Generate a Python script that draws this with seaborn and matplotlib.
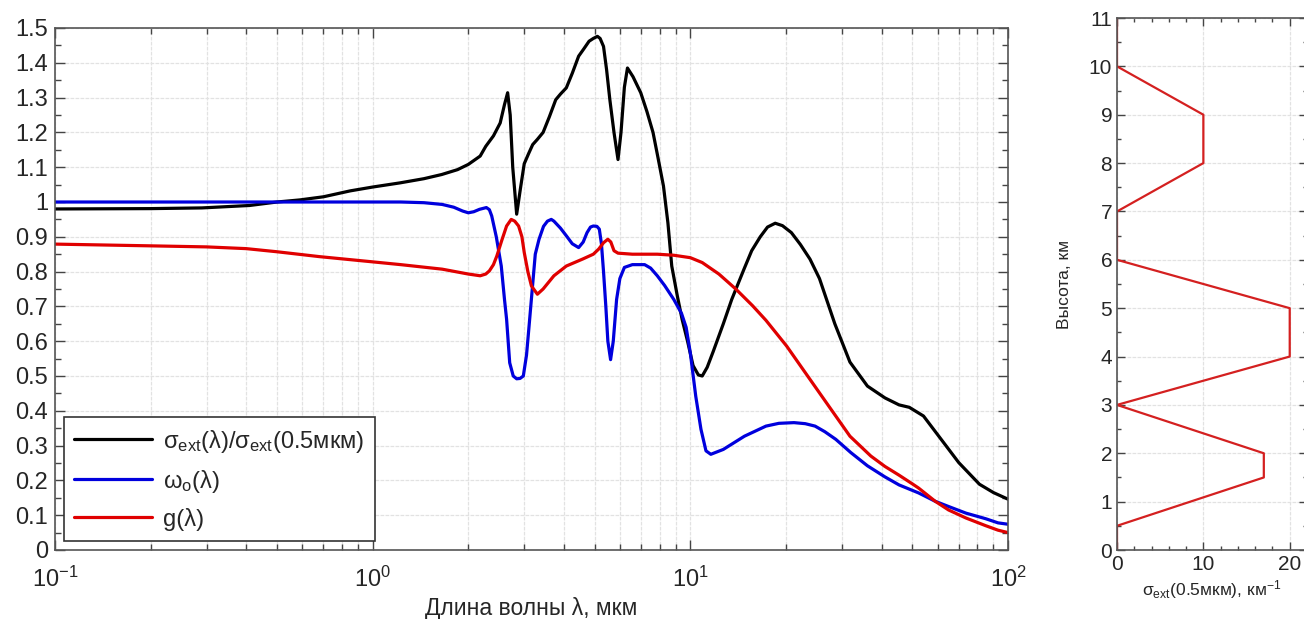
import numpy as np
import pandas as pd
import matplotlib
matplotlib.use("Agg")
import matplotlib.pyplot as plt
from matplotlib.ticker import MultipleLocator, LogLocator, NullFormatter
import seaborn as sns

# ---------------- data ----------------
lam_ext = [0.1, 0.2, 0.29, 0.41, 0.5, 0.59, 0.7, 0.85, 1.0, 1.22, 1.45, 1.65, 1.85, 2.0,
           2.18, 2.27, 2.4, 2.52, 2.6, 2.66, 2.71, 2.76, 2.84, 2.92, 3.0, 3.1, 3.19, 3.3,
           3.44, 3.6, 3.77, 3.9, 4.07, 4.25, 4.45, 4.62, 4.8, 4.95, 5.1, 5.2, 5.33, 5.45,
           5.58, 5.75, 5.92, 6.05, 6.2, 6.34, 6.6, 6.98, 7.3, 7.63, 7.9, 8.23, 8.5, 8.74,
           9.1, 9.42, 9.8, 10.2, 10.6, 10.9, 11.3, 11.8, 12.7, 13.5, 14.8, 15.6, 16.6,
           17.5, 18.5, 19.5, 20.8, 22.2, 23.8, 25.5, 28.5, 31.8, 36.1, 41.0, 45.4, 48.9,
           54.2, 61.6, 70.0, 81.3, 90.0, 100.0]
sigma_ratio = [0.98, 0.981, 0.983, 0.99, 1.0, 1.006, 1.015, 1.032, 1.043, 1.055, 1.067,
               1.079, 1.093, 1.108, 1.132, 1.16, 1.19, 1.227, 1.28, 1.314, 1.25, 1.1,
               0.965, 1.04, 1.11, 1.14, 1.165, 1.18, 1.2, 1.245, 1.294, 1.31, 1.328, 1.37,
               1.419, 1.44, 1.462, 1.47, 1.476, 1.47, 1.447, 1.38, 1.294, 1.2, 1.122, 1.2,
               1.33, 1.385, 1.36, 1.314, 1.26, 1.2, 1.13, 1.046, 0.94, 0.816, 0.73, 0.663,
               0.6, 0.53, 0.503, 0.5, 0.525, 0.57, 0.65, 0.72, 0.81, 0.86, 0.9, 0.928,
               0.939, 0.932, 0.912, 0.878, 0.836, 0.78, 0.65, 0.54, 0.471, 0.437, 0.417,
               0.41, 0.385, 0.318, 0.251, 0.189, 0.165, 0.146]

lam_omega = [0.1, 1.0, 1.226, 1.45, 1.655, 1.8, 1.92, 2.0, 2.08, 2.17, 2.28, 2.33, 2.37,
             2.45, 2.54, 2.6, 2.64, 2.7, 2.77, 2.84, 2.91, 2.98, 3.05, 3.1, 3.18, 3.25,
             3.34, 3.45, 3.55, 3.65, 3.72, 3.9, 4.07, 4.25, 4.45, 4.6, 4.73, 4.85, 4.95,
             5.08, 5.17, 5.25, 5.33, 5.42, 5.5, 5.61, 5.72, 5.86, 6.0, 6.2, 6.57, 7.18,
             7.5, 7.87, 8.3, 8.87, 9.38, 9.7, 10.0, 10.4, 10.8, 11.2, 11.6, 12.7, 14.8,
             17.3, 19.0, 21.2, 23.0, 24.7, 26.5, 28.7, 32.0, 36.1, 41.0, 45.4, 52.3, 59.0,
             65.0, 73.7, 85.0, 93.0, 100.0]
omega0 = [1.0, 1.0, 1.0, 0.998, 0.993, 0.985, 0.974, 0.969, 0.972, 0.979, 0.984, 0.978,
          0.96, 0.9, 0.816, 0.72, 0.663, 0.538, 0.5, 0.492, 0.493, 0.5, 0.56, 0.633, 0.75,
          0.85, 0.893, 0.93, 0.945, 0.95, 0.945, 0.925, 0.903, 0.88, 0.869, 0.885, 0.912,
          0.928, 0.931, 0.93, 0.922, 0.88, 0.8, 0.7, 0.6, 0.547, 0.6, 0.72, 0.78, 0.812,
          0.82, 0.82, 0.81, 0.788, 0.76, 0.72, 0.68, 0.64, 0.566, 0.442, 0.347, 0.285,
          0.275, 0.289, 0.327, 0.356, 0.364, 0.366, 0.363, 0.356, 0.34, 0.318, 0.28,
          0.242, 0.21, 0.187, 0.164, 0.14, 0.125, 0.106, 0.09, 0.078, 0.074]

lam_g = [0.1, 0.2, 0.3, 0.4, 0.5, 0.68, 1.0, 1.226, 1.655, 2.0, 2.18, 2.27, 2.33, 2.4,
         2.46, 2.55, 2.64, 2.73, 2.8, 2.88, 2.95, 3.0, 3.08, 3.16, 3.3, 3.44, 3.72, 4.07,
         4.58, 4.95, 5.15, 5.33, 5.5, 5.62, 5.75, 5.92, 6.57, 7.87, 8.87, 10.0, 10.9,
         12.3, 13.9, 15.7, 17.3, 20.1, 23.4, 27.3, 31.8, 37.0, 41.0, 45.4, 50.0, 52.3,
         59.0, 65.0, 73.7, 85.0, 93.0, 100.0]
g_asym = [0.879, 0.874, 0.871, 0.866, 0.857, 0.843, 0.828, 0.82, 0.807, 0.793, 0.788,
          0.793, 0.802, 0.82, 0.845, 0.89, 0.931, 0.95, 0.945, 0.931, 0.9, 0.855, 0.8,
          0.759, 0.735, 0.75, 0.788, 0.816, 0.836, 0.85, 0.865, 0.883, 0.893, 0.885, 0.86,
          0.853, 0.85, 0.85, 0.847, 0.84, 0.826, 0.793, 0.75, 0.702, 0.66, 0.586, 0.5,
          0.413, 0.327, 0.27, 0.24, 0.215, 0.19, 0.178, 0.14, 0.115, 0.092, 0.07, 0.057,
          0.05]

# vertical extinction profile
prof_sigma = [0, 0, 17, 17, 0, 20, 20, 0, 0, 10, 10, 0, 0]
prof_height = [0, 0.5, 1.5, 2, 3, 4, 5, 6, 7, 8, 9, 10, 11]

labels = [r'$\sigma_{ext}$(λ)/$\sigma_{ext}$(0.5мкм)', r'$\omega_{o}$(λ)', 'g(λ)']
colors = ['#000000', '#0000dd', '#e00000']

# ---------------- style ----------------
sns.set_style("ticks")
plt.rcParams['font.family'] = ['Liberation Sans', 'DejaVu Sans']
plt.rcParams['mathtext.default'] = 'regular'
plt.rcParams['xtick.direction'] = 'in'
plt.rcParams['ytick.direction'] = 'in'

W, H = 1304, 619
fig = plt.figure(figsize=(W / 100, H / 100), dpi=100)

def px_axes(l, r, t, b):
    return [l / W, (H - b) / H, (r - l) / W, (b - t) / H]

ax = fig.add_axes(px_axes(55, 1008, 28, 550))
ax2 = fig.add_axes(px_axes(1117, 1307, 18, 550))

grid_kw = dict(color='#e2e2e2', linewidth=0.9, linestyle=(0, (3, 1)))

# ---------------- left panel ----------------
series = [(lam_ext, sigma_ratio), (lam_omega, omega0), (lam_g, g_asym)]
for (xs, ys), lab, c in zip(series, labels, colors):
    df = pd.DataFrame({'x': xs, 'y': ys})
    sns.lineplot(data=df, x='x', y='y', ax=ax, color=c, linewidth=2.3, label=lab,
                 sort=False, estimator=None)

ax.set_xscale('log')
ax.set_xlim(0.1, 100)
ax.set_ylim(0, 1.5)
yt = np.round(np.arange(0, 1.51, 0.1), 2)
ax.set_yticks(yt)
ax.set_yticklabels([('%g' % v) for v in yt])
ax.yaxis.set_minor_locator(MultipleLocator(0.05))
ax.xaxis.set_major_locator(LogLocator(base=10, numticks=10))
ax.xaxis.set_minor_locator(LogLocator(base=10, subs=np.arange(2, 10), numticks=20))
ax.xaxis.set_minor_formatter(NullFormatter())
ax.grid(True, which='major', axis='both', **grid_kw)
ax.grid(True, which='minor', axis='x', **grid_kw)
ax.tick_params(which='both', top=True, right=True, labelsize=17, color='#444444')
ax.tick_params(which='major', length=7, width=1)
ax.tick_params(which='minor', length=4, width=1)
ax.tick_params(axis='x', which='major', pad=12)
ax.tick_params(axis='y', which='major', pad=5)
for s in ax.spines.values():
    s.set_color('#555555')
    s.set_linewidth(1.2)
ax.set_xlabel('Длина волны λ, мкм', fontsize=16.5, labelpad=4)
ax.set_ylabel('')
leg = ax.legend(loc='lower left', bbox_to_anchor=(0.009, 0.017), fontsize=17,
                handlelength=3.3, frameon=True, fancybox=False, borderpad=0.45,
                labelspacing=0.55, handletextpad=0.45, borderaxespad=0)
leg.get_frame().set_edgecolor('#333333')
leg.get_frame().set_linewidth(1.2)
leg.get_frame().set_alpha(1)

# ---------------- right panel ----------------
dfp = pd.DataFrame({'s': prof_sigma, 'h': prof_height})
sns.lineplot(data=dfp, x='s', y='h', ax=ax2, color='#d42020', linewidth=1.6,
             sort=False, estimator=None)
ax2.set_xlim(0, 22)
ax2.set_ylim(0, 11)
ax2.xaxis.set_major_locator(MultipleLocator(10))
ax2.xaxis.set_minor_locator(MultipleLocator(2))
ax2.yaxis.set_major_locator(MultipleLocator(1))
ax2.yaxis.set_minor_locator(MultipleLocator(0.5))
ax2.grid(True, which='major', **grid_kw)
ax2.tick_params(which='both', top=True, right=True, labelsize=15, color='#444444')
ax2.tick_params(which='major', length=6, width=1)
ax2.tick_params(which='minor', length=3, width=1)
for s in ax2.spines.values():
    s.set_color('#555555')
    s.set_linewidth(1.2)
ax2.set_xlabel(r'$\sigma_{ext}$(0.5мкм), км$^{-1}$', fontsize=12.5, labelpad=3)
ax2.set_ylabel('Высота, км', fontsize=12.5, labelpad=12)

fig.savefig('out.png', dpi=100)
